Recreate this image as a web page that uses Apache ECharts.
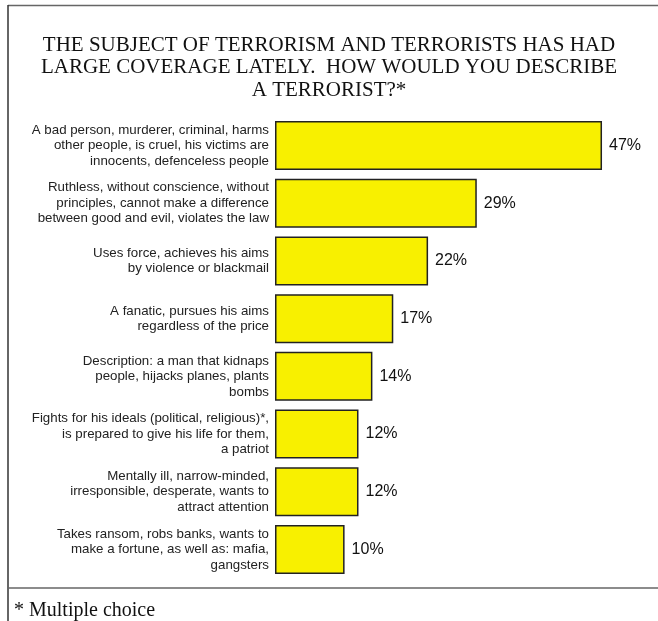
<!DOCTYPE html>
<html><head><meta charset="utf-8">
<script src="https://cdn.jsdelivr.net/npm/echarts@6/dist/echarts.min.js"></script>
<style>html,body{margin:0;padding:0;background:#fff}#c{width:658px;height:621px}</style>
</head><body><div id="c"></div>
<script>
const titleLines = [
  "THE SUBJECT OF TERRORISM AND TERRORISTS HAS HAD",
  "LARGE COVERAGE LATELY.  HOW WOULD YOU DESCRIBE",
  "A TERRORIST?*"
];
const categories = [
  "A bad person, murderer, criminal, harms\nother people, is cruel, his victims are\ninnocents, defenceless people",
  "Ruthless, without conscience, without\nprinciples, cannot make a difference\nbetween good and evil, violates the law",
  "Uses force, achieves his aims\nby violence or blackmail",
  "A fanatic, pursues his aims\nregardless of the price",
  "Description: a man that kidnaps\npeople, hijacks planes, plants\nbombs",
  "Fights for his ideals (political, religious)*,\nis prepared to give his life for them,\na patriot",
  "Mentally ill, narrow-minded,\nirresponsible, desperate, wants to\nattract attention",
  "Takes ransom, robs banks, wants to\nmake a fortune, as well as: mafia,\ngangsters"
];
const values = [47, 29, 22, 17, 14, 12, 12, 10];
const footnote = "* Multiple choice";

const chart = echarts.init(document.getElementById('c'), null, {renderer: 'canvas'});
chart.setOption({
  animation: false,
  backgroundColor: '#fff',
  title: {
    text: titleLines.join('\n'),
    left: 'center',
    top: 29,
    textStyle: {fontFamily: 'Liberation Serif', fontWeight: 'normal', fontSize: 21, color: '#111', lineHeight: 22.5}
  },
  grid: {left: 275, right: 35.1, top: 116.7, bottom: 621 - 578.3, containLabel: false},
  xAxis: {
    type: 'value', min: 0, max: 50,
    show: false
  },
  yAxis: {
    type: 'category', inverse: true, data: categories,
    axisLine: {show: false}, axisTick: {show: false}, splitLine: {show: false},
    axisLabel: {
      margin: 6, align: 'right',
      fontFamily: 'Liberation Sans', fontSize: 13.3, color: '#222', lineHeight: 15.5
    }
  },
  series: [{
    type: 'bar', data: values, barCategoryGap: '15%',
    itemStyle: {color: '#f8f000', borderColor: '#222', borderWidth: 1.5},
    label: {
      show: true, position: 'right', distance: 7,
      formatter: p => p.value + '%',
      fontFamily: 'Liberation Sans', fontSize: 16, color: '#111'
    }
  }],
  graphic: [
    {type: 'line', shape: {x1: 8, y1: 5.5, x2: 658, y2: 5.5}, style: {stroke: '#666', lineWidth: 1.5}},
    {type: 'line', shape: {x1: 8, y1: 5, x2: 8, y2: 621}, style: {stroke: '#333', lineWidth: 1.5}},
    {type: 'line', shape: {x1: 8, y1: 588, x2: 658, y2: 588}, style: {stroke: '#666', lineWidth: 1.5}},
    {type: 'text', left: 14, top: 601, style: {text: footnote, font: '20px "Liberation Serif"', fill: '#111'}}
  ]
});
</script></body></html>
